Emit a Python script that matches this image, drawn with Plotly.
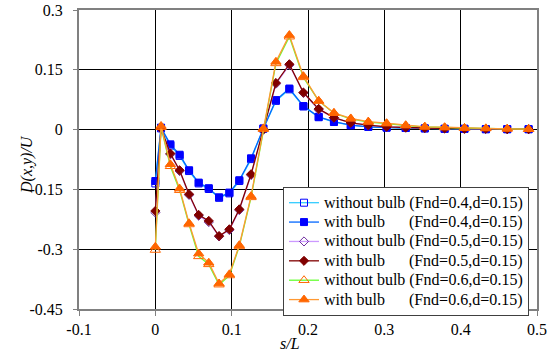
import plotly.graph_objects as go

s = [0, 0.0075, 0.0197, 0.0318, 0.0442, 0.0568, 0.070, 0.0835, 0.097, 0.110, 0.1254,
     0.1415, 0.158, 0.1756, 0.194, 0.214, 0.234, 0.256, 0.279, 0.303, 0.328, 0.353,
     0.379, 0.405, 0.433, 0.461, 0.489]

wo_04 = [-0.135, 0.003, -0.040, -0.066, -0.104, -0.135, -0.149, -0.171, -0.160, -0.129, -0.074,
         0.002, 0.072, 0.101, 0.058, 0.031, 0.019, 0.011, 0.007, 0.005, 0.004, 0.003,
         0.002, 0.002, 0.001, 0.001, 0.001]
w_04 = [-0.129, 0.005, -0.037, -0.063, -0.102, -0.133, -0.147, -0.170, -0.158, -0.127, -0.072,
        0.003, 0.074, 0.103, 0.059, 0.032, 0.020, 0.011, 0.007, 0.005, 0.004, 0.003,
        0.002, 0.002, 0.001, 0.001, 0.001]
wo_05 = [-0.208, 0.002, -0.062, -0.104, -0.164, -0.216, -0.232, -0.268, -0.252, -0.202, -0.114,
         0.000, 0.115, 0.162, 0.092, 0.050, 0.030, 0.017, 0.011, 0.007, 0.005, 0.004,
         0.003, 0.002, 0.002, 0.001, 0.001]
w_05 = [-0.204, 0.003, -0.060, -0.102, -0.162, -0.214, -0.229, -0.267, -0.250, -0.200, -0.112,
        0.000, 0.117, 0.164, 0.093, 0.052, 0.030, 0.017, 0.011, 0.007, 0.005, 0.004,
        0.003, 0.002, 0.002, 0.001, 0.001]
wo_06 = [-0.302, 0.006, -0.092, -0.152, -0.238, -0.318, -0.338, -0.389, -0.366, -0.293, -0.170,
         0.001, 0.166, 0.233, 0.131, 0.072, 0.041, 0.027, 0.019, 0.015, 0.010, 0.007,
         0.005, 0.004, 0.003, 0.002, 0.001]
w_06 = [-0.294, 0.009, -0.087, -0.148, -0.235, -0.311, -0.334, -0.386, -0.363, -0.290, -0.167,
        0.003, 0.170, 0.237, 0.134, 0.072, 0.042, 0.028, 0.020, 0.016, 0.011, 0.007,
        0.006, 0.004, 0.003, 0.002, 0.001]

labels = [
    "without bulb (Fnd=0.4,d=0.15)",
    "with bulb" + "\u00a0" * 6 + "(Fnd=0.4,d=0.15)",
    "without bulb (Fnd=0.5,d=0.15)",
    "with bulb" + "\u00a0" * 6 + "(Fnd=0.5,d=0.15)",
    "without bulb (Fnd=0.6,d=0.15)",
    "with bulb" + "\u00a0" * 6 + "(Fnd=0.6,d=0.15)",
]
series = [wo_04, w_04, wo_05, w_05, wo_06, w_06]
line_colors = ["#33CCFF", "#0066FF", "#CC99FF", "#800000", "#66FF33", "#FF9933"]
marker_colors = ["#0000FF", "#0000FF", "#7030A0", "#800000", "#FF6600", "#FF6600"]
symbols = ["square-open", "square", "diamond-open", "diamond", "triangle-up-open", "triangle-up"]
sizes = [7, 7, 7, 7, 9, 9]

fig = go.Figure()
for y, n, lc, mc, sym, sz in zip(series, labels, line_colors, marker_colors, symbols, sizes):
    fig.add_trace(go.Scatter(
        x=s, y=y, name='<span style="font-size:16px">' + n + "</span>", mode="lines+markers",
        line=dict(color=lc, width=1.3),
        marker=dict(symbol=sym, color=mc, size=sz, line=dict(color=mc, width=1)),
    ))

FONT = "Liberation Serif, Times New Roman, Tinos, DejaVu Serif, Noto Serif, serif"
L, R, T, B = 79, 18, 10, 42
W, H = 555, 351
pw, ph = W - L - R, H - T - B


def px2paper(x, y):
    return (x - L) / pw, (H - B - y) / ph


ax_title_x = px2paper(290, 343)
ay_title = px2paper(27, 165)

fig.update_layout(
    width=W, height=H,
    margin=dict(l=L, r=R, t=T, b=B, autoexpand=False),
    paper_bgcolor="white", plot_bgcolor="white",
    font=dict(family=FONT, size=14, color="black"),
    showlegend=True,
    legend=dict(
        x=px2paper(283, 0)[0], y=px2paper(0, 187)[1], xanchor="left", yanchor="top",
        bgcolor="white", bordercolor="#404040", borderwidth=1,
        font=dict(family=FONT, size=12.6, color="black"),
        tracegroupgap=0,
    ),
    xaxis=dict(
        range=[-0.1, 0.5], tickvals=[-0.1, 0, 0.1, 0.2, 0.3, 0.4, 0.5],
        ticktext=["-0.1", "0", "0.1", "0.2", "0.3", "0.4", "0.5"],
        showgrid=True, gridcolor="#000000", gridwidth=1, automargin=False,
        zeroline=False, showline=True, linecolor="#808080", linewidth=2, mirror=True,
        ticks="outside", ticklen=5, tickcolor="#808080",
        tickfont=dict(family=FONT, size=16),
    ),
    yaxis=dict(
        range=[-0.45, 0.3], tickvals=[-0.45, -0.3, -0.15, 0, 0.15, 0.3],
        ticktext=["-0.45", "-0.3", "-0.15", "0", "0.15", "0.3"],
        showgrid=True, gridcolor="#000000", gridwidth=1, automargin=False,
        zeroline=False, showline=True, linecolor="#808080", linewidth=2, mirror=True,
        ticks="outside", ticklen=4, tickcolor="#808080", ticklabelstandoff=7,
        tickfont=dict(family=FONT, size=16),
    ),
    annotations=[
        dict(text="<i>s/L</i>", x=ax_title_x[0], y=ax_title_x[1], xref="paper", yref="paper",
             showarrow=False, xanchor="center", yanchor="middle",
             font=dict(family=FONT, size=16)),
        dict(text="<i>D(x,y)/U</i>", x=ay_title[0], y=ay_title[1], xref="paper", yref="paper",
             textangle=-90, showarrow=False, xanchor="center", yanchor="middle",
             font=dict(family=FONT, size=16)),
    ],
)
fig.write_html("out.html")
